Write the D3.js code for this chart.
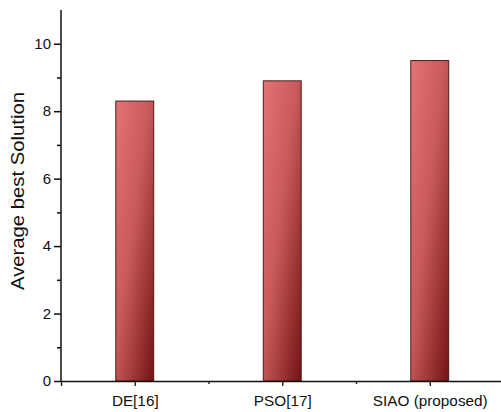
<!DOCTYPE html>
<html>
<head>
<meta charset="utf-8">
<script src="https://cdn.jsdelivr.net/npm/d3@7"></script>
<style>
  html, body { margin: 0; padding: 0; background: #fff; }
  svg { display: block; }
  text { font-family: Arial, "Liberation Sans", sans-serif; fill: #111; }
</style>
</head>
<body>
<div id="chart"></div>
<script>
// Average best solution per algorithm
const categories = ["DE[16]", "PSO[17]", "SIAO (proposed)"];
const values = [8.3, 8.9, 9.5];
const yMajorTicks = [0, 2, 4, 6, 8, 10];
const yMinorTicks = [1, 3, 5, 7, 9];

const W = 501, H = 412;
const plot = { left: 61, top: 10, bottom: 381 };

const svg = d3.select("#chart").append("svg")
  .attr("width", W).attr("height", H);

const defs = svg.append("defs");
const grad = defs.append("linearGradient")
  .attr("id", "barFill")
  .attr("x1", 0).attr("y1", 0).attr("x2", 1).attr("y2", 1);
grad.append("stop").attr("offset", "0%").attr("stop-color", "#e27474");
grad.append("stop").attr("offset", "45%").attr("stop-color", "#c95a5c");
grad.append("stop").attr("offset", "100%").attr("stop-color", "#741313");

// categories sit at 1, 2, 3 on a linear axis running 0.5 .. 3.5
const x = d3.scaleLinear().domain([0.5, 3.5]).range([plot.left, plot.left + 442.5]);
const y = d3.scaleLinear().domain([0, 11]).range([plot.bottom, plot.top]);
const barW = 0.257 * (x(2) - x(1));

// bars
svg.append("g").selectAll("rect")
  .data(values)
  .join("rect")
  .attr("x", (d, i) => x(i + 1) - barW / 2)
  .attr("y", d => y(d))
  .attr("width", barW)
  .attr("height", d => y(0) - y(d))
  .attr("fill", "url(#barFill)")
  .attr("stroke", "#4a1c1c")
  .attr("stroke-width", 1);

// y axis: major ticks with labels, minor ticks without
const yAxis = svg.append("g").attr("transform", `translate(${plot.left},0)`);
yAxis.call(d3.axisLeft(y).tickValues(yMajorTicks).tickSize(7).tickPadding(3).tickFormat(d3.format("d")));
yAxis.append("g").call(d3.axisLeft(y).tickValues(yMinorTicks).tickSize(4).tickFormat(""))
  .select(".domain").remove();
yAxis.selectAll(".domain").attr("d", `M0,${plot.top}V${plot.bottom}`);
yAxis.selectAll("text").attr("font-size", 15).attr("fill", "#111");
yAxis.selectAll("line, path").attr("stroke", "#111").attr("stroke-width", 1.5);

// x axis
const xAxis = svg.append("g").attr("transform", `translate(0,${plot.bottom})`);
xAxis.call(d3.axisBottom(x).tickValues([1, 2, 3]).tickSize(5).tickPadding(6)
  .tickFormat((d) => categories[d - 1]));
xAxis.append("g").call(d3.axisBottom(x).tickValues([1.5, 2.5]).tickSize(3).tickFormat(""))
  .select(".domain").remove();
xAxis.selectAll("text").attr("font-size", 15.3).attr("fill", "#111")
  .attr("y", 25).attr("dy", 0);
xAxis.selectAll("line, path").attr("stroke", "#111").attr("stroke-width", 1.3);

// y axis title
svg.append("text")
  .attr("transform", `translate(24,${191}) rotate(-90)`)
  .attr("text-anchor", "middle")
  .attr("font-size", 17.5)
  .attr("textLength", 198)
  .attr("lengthAdjust", "spacingAndGlyphs")
  .text("Average best Solution");
</script>
</body>
</html>
